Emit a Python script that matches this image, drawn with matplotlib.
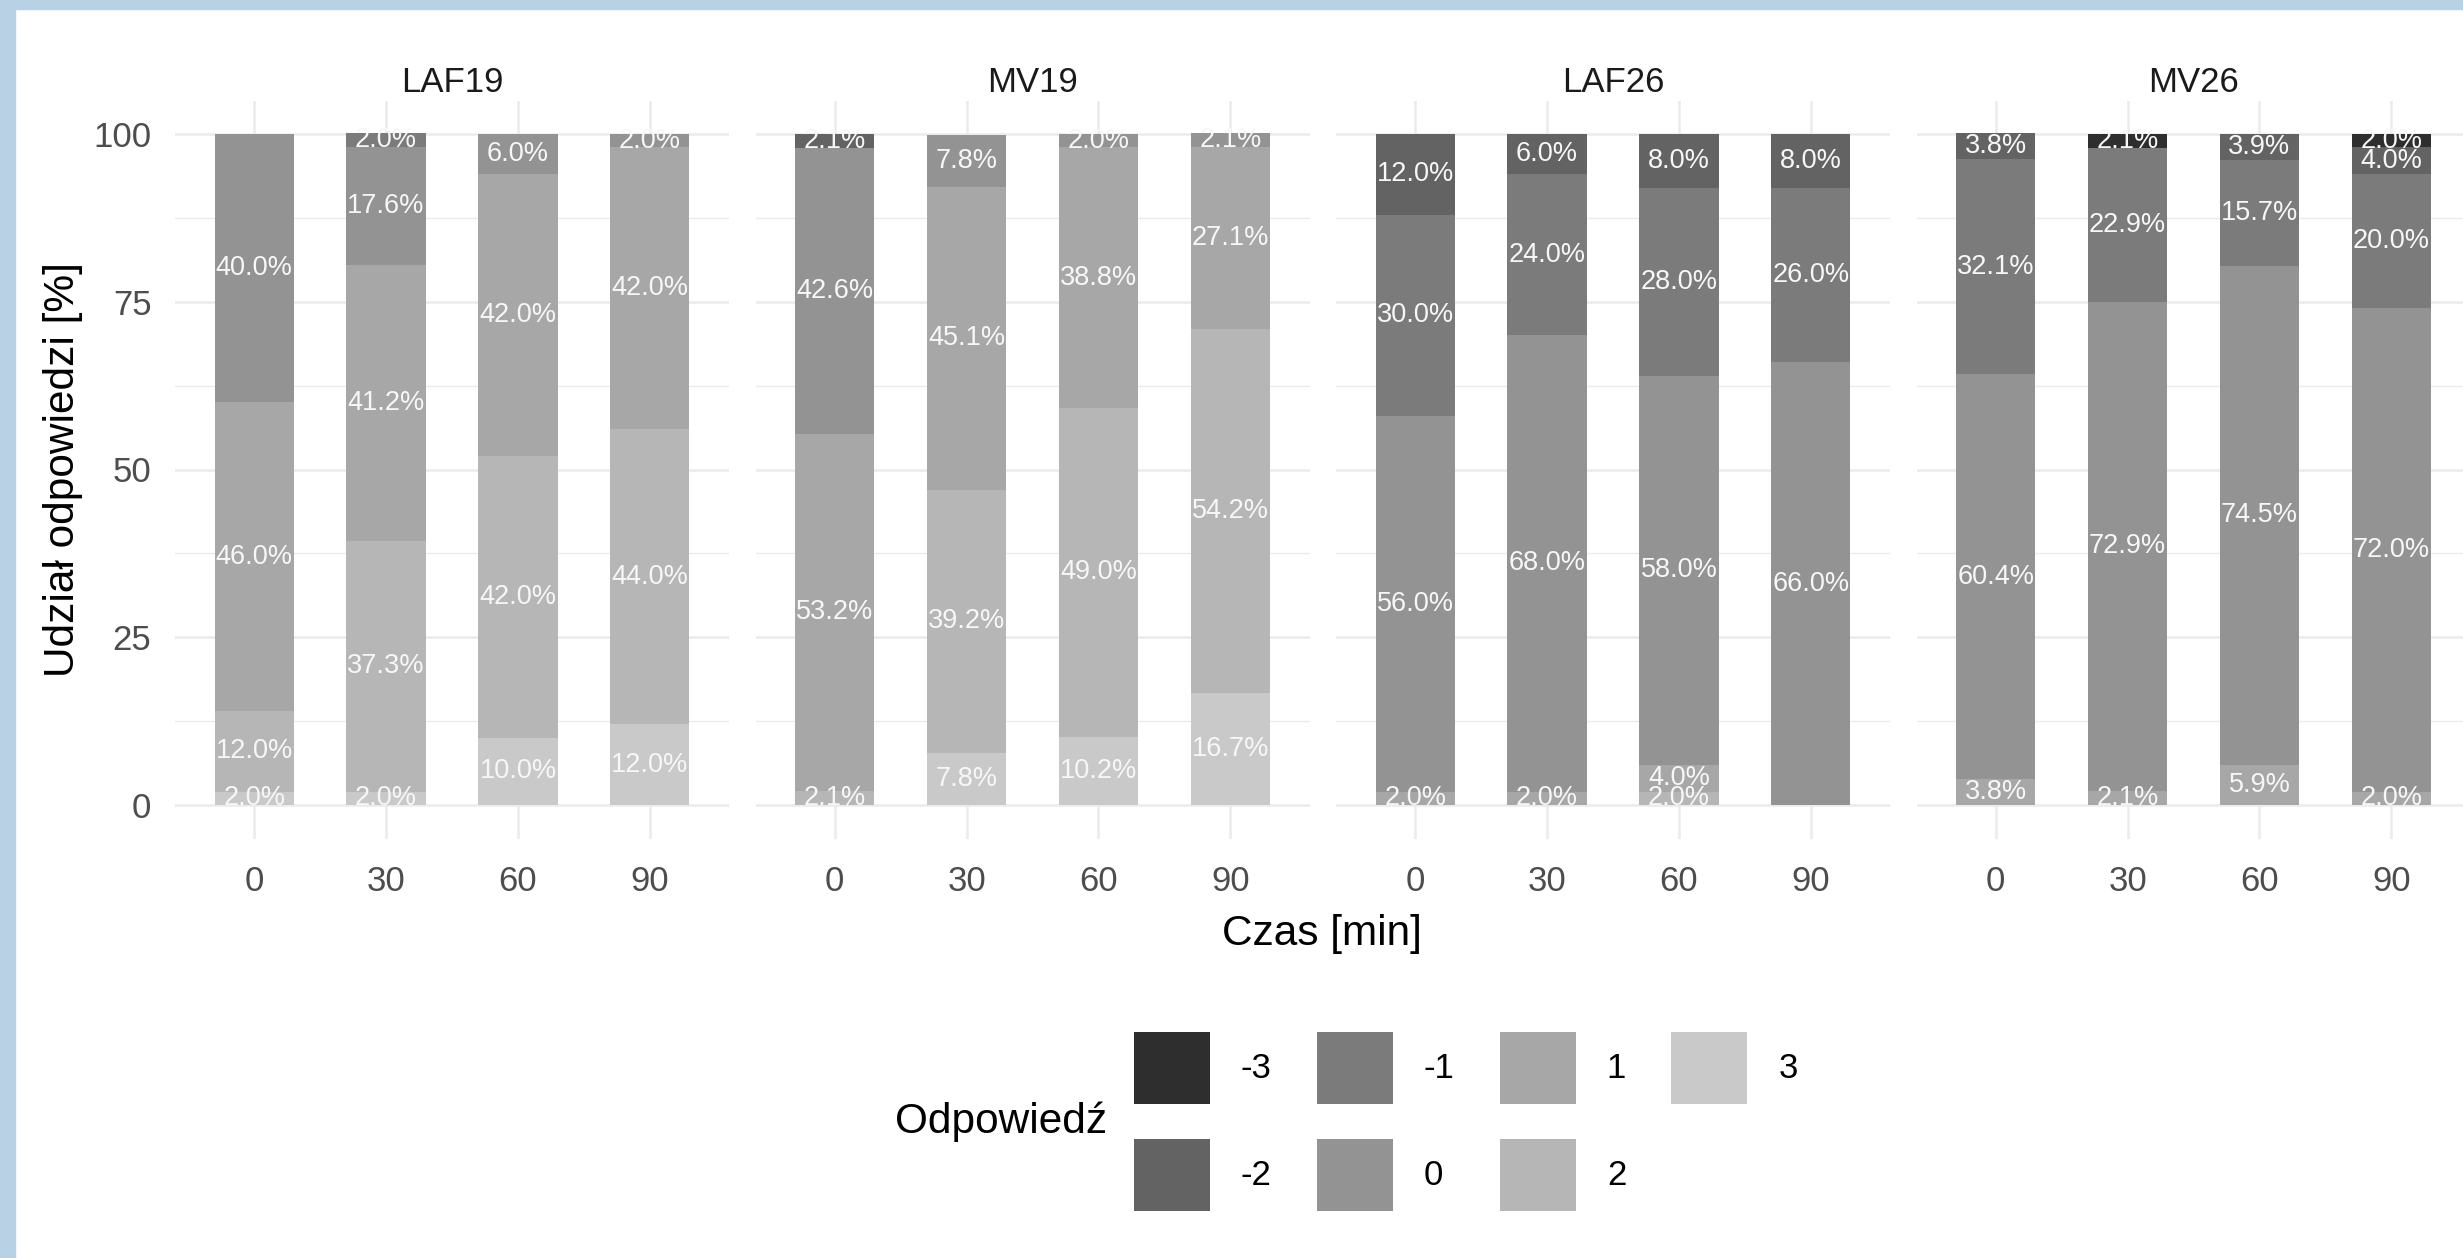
import numpy as np
import matplotlib
matplotlib.use('Agg')
import matplotlib.pyplot as plt
from matplotlib.patches import Patch, Rectangle

plt.rcParams['font.family'] = ['Liberation Sans', 'DejaVu Sans']

groups = ['LAF19', 'MV19', 'LAF26', 'MV26']
times = ['0', '30', '60', '90']
levels = ['-3', '-2', '-1', '0', '1', '2', '3']
colors = ['#2e2e2e', '#636363', '#7b7b7b', '#939393', '#a7a7a7', '#b6b6b6', '#c9c9c9']

# rows: answer -3 .. 3, columns: time 0, 30, 60, 90 [%]
laf19 = [[0, 0, 0, 0],
         [0, 0, 0, 0],
         [0, 2.0, 0, 0],
         [40.0, 17.6, 6.0, 2.0],
         [46.0, 41.2, 42.0, 42.0],
         [12.0, 37.3, 42.0, 44.0],
         [2.0, 2.0, 10.0, 12.0]]
mv19 = [[0, 0, 0, 0],
        [2.1, 0, 0, 0],
        [0, 0, 0, 0],
        [42.6, 7.8, 2.0, 2.1],
        [53.2, 45.1, 38.8, 27.1],
        [2.1, 39.2, 49.0, 54.2],
        [0, 7.8, 10.2, 16.7]]
laf26 = [[0, 0, 0, 0],
         [12.0, 6.0, 8.0, 8.0],
         [30.0, 24.0, 28.0, 26.0],
         [56.0, 68.0, 58.0, 66.0],
         [2.0, 2.0, 4.0, 0],
         [0, 0, 2.0, 0],
         [0, 0, 0, 0]]
mv26 = [[0, 2.1, 0, 2.0],
        [3.8, 0, 3.9, 4.0],
        [32.1, 22.9, 15.7, 20.0],
        [60.4, 72.9, 74.5, 72.0],
        [3.8, 2.1, 5.9, 2.0],
        [0, 0, 0, 0],
        [0, 0, 0, 0]]
panels = [laf19, mv19, laf26, mv26]

W, H = 2463, 1258
fig = plt.figure(figsize=(W / 100, H / 100), dpi=100)

# panel geometry in pixels
left0, step, pw = 175, 580.5, 554
top, bottom = 100.5, 838.5
x = np.arange(len(times))

for k, (name, data) in enumerate(zip(groups, panels)):
    arr = np.array(data, dtype=float)
    # -3 on top, 3 at the bottom
    below = np.flipud(np.cumsum(np.flipud(arr), axis=0)) - arr

    ax = fig.add_axes([(left0 + k * step) / W, 1 - bottom / H, pw / W, (bottom - top) / H])
    for i, lvl in enumerate(levels):
        ax.bar(x, arr[i], bottom=below[i], width=0.6, color=colors[i], zorder=2)
        for j in x:
            if arr[i, j] > 0:
                ax.text(j, below[i, j] + arr[i, j] / 2, f'{arr[i, j]:.1f}%',
                        ha='center', va='center', color='#f7f7f7', fontsize=19.5, zorder=3)

    ax.set_xlim(-0.6, 3.6)
    ax.set_ylim(-5, 105)
    ax.set_xticks(x)
    ax.set_xticklabels(times)
    ax.set_yticks([0, 25, 50, 75, 100])
    ax.set_yticks([12.5, 37.5, 62.5, 87.5], minor=True)
    ax.grid(which='major', color='#ebebeb', lw=1.8, zorder=0)
    ax.grid(which='minor', axis='y', color='#ebebeb', lw=1.0, zorder=0)
    ax.set_axisbelow(True)
    for s in ax.spines.values():
        s.set_visible(False)
    ax.tick_params(which='both', length=0, labelsize=25, labelcolor='#4d4d4d')
    ax.tick_params(axis='x', pad=19)
    ax.tick_params(axis='y', pad=17)
    if k > 0:
        ax.tick_params(axis='y', labelleft=False)
    ax.text(0.5, 1.024, name, transform=ax.transAxes, ha='center', va='center',
            fontsize=25, color='#1a1a1a')

fig.text(63 / W, 1 - 470 / H, 'Udział odpowiedzi [%]', rotation=90,
         ha='center', va='center', fontsize=30.5)
fig.text(1322 / W, 1 - 934 / H, 'Czas [min]', ha='center', va='center', fontsize=30.5)

handles = [Patch(facecolor=c, edgecolor='none') for c in colors]
fig.legend(handles, levels, loc='upper left', bbox_to_anchor=(1134 / W, 1 - 1032 / H),
           ncol=4, frameon=False, fontsize=25, borderpad=0, borderaxespad=0,
           handlelength=2.19, handleheight=2.815, handletextpad=0.89,
           columnspacing=1.3, labelspacing=1.0)
fig.text(1107 / W, 1 - 1122 / H, 'Odpowiedź', ha='right', va='center', fontsize=30.5)

# light blue frame of the screenshot
fig.add_artist(Rectangle((0, 0), 15 / W, 1, transform=fig.transFigure,
                         color='#b9d1e5', zorder=10))
fig.add_artist(Rectangle((0, 1 - 9 / H), 1, 9 / H, transform=fig.transFigure,
                         color='#b9d1e5', zorder=10))

fig.savefig('out.png', dpi=100)
